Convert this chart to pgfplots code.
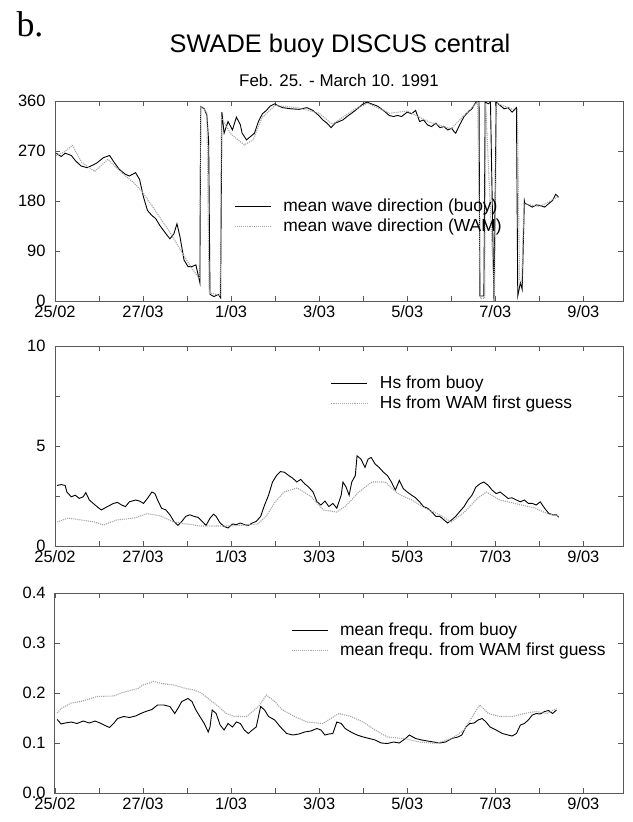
\documentclass[border=0pt]{standalone}
\usepackage{fontspec}
\setmainfont{Liberation Sans}
\newfontfamily\bfont{Liberation Serif}
\usepackage{pgfplots}
\usepackage{pgfplotstable}
\pgfplotsset{compat=1.18}

% mean wave direction, buoy (day since 25/02, degrees)
\pgfplotstableread{
x y
0.03 266
0.14 260
0.23 266
0.37 262
0.46 253
0.59 243
0.73 240
0.87 245
0.96 249
1.10 258
1.24 262
1.33 251
1.46 237
1.60 228
1.69 225
1.83 231
1.92 219
2.01 187
2.10 163
2.20 154
2.29 148
2.38 136
2.52 121
2.61 112
2.70 121
2.77 139
2.84 115
2.93 74
3.02 62
3.11 62
3.20 65
3.29 33
3.31 350
3.39 346
3.45 334
3.49 287
3.52 12
3.61 8
3.71 12
3.76 6
3.79 340
3.84 302
3.93 323
4.03 308
4.12 331
4.21 317
4.25 302
4.35 290
4.44 296
4.53 302
4.62 323
4.71 337
4.80 343
4.89 351
4.99 355
5.08 351
5.17 348
5.35 346
5.54 345
5.72 348
5.86 343
5.99 334
6.08 326
6.18 320
6.27 312
6.36 320
6.45 323
6.54 326
6.63 332
6.72 337
6.82 343
6.91 349
7.00 355
7.09 358
7.18 355
7.32 351
7.46 343
7.59 334
7.69 332
7.78 334
7.87 332
8.00 340
8.10 337
8.19 343
8.28 323
8.37 326
8.46 317
8.55 314
8.65 320
8.74 312
8.83 314
8.92 308
9.01 311
9.06 305
9.10 302
9.19 317
9.29 332
9.38 340
9.47 346
9.56 358
9.63 360
9.65 9
9.74 9
9.77 358
9.84 355
9.89 358
9.97 0
10.02 358
10.11 352
10.20 346
10.29 348
10.38 340
10.48 348
10.51 9
10.57 33
10.61 21
10.66 180
10.67 176
10.75 173
10.84 169
10.93 173
11.02 172
11.12 169
11.21 175
11.30 181
11.37 192
11.44 187
}\dirbuoy

% mean wave direction, WAM
\pgfplotstableread{
x y
0.03 262
0.20 268
0.40 280
0.60 250
0.90 233
1.20 255
1.50 232
1.80 212
2.00 195
2.30 160
2.60 125
2.90 85
3.10 60
3.28 40
3.31 350
3.45 340
3.50 15
3.75 10
3.78 330
4.00 300
4.30 281
4.50 290
4.70 330
5.00 352
5.50 348
6.00 338
6.30 318
6.80 345
7.10 356
7.60 338
8.00 342
8.50 322
9.00 310
9.30 335
9.60 358
9.66 5
9.76 5
9.78 356
9.98 2
10.03 356
10.40 345
10.50 345
10.55 38
10.60 30
10.65 175
11.00 170
11.44 188
}\dirwam

% Hs, buoy (m)
\pgfplotstableread{
x y
0.05 3.03
0.14 3.07
0.23 3.03
0.27 2.70
0.37 2.46
0.46 2.54
0.55 2.38
0.64 2.46
0.70 2.67
0.78 2.30
0.91 2.05
1.05 1.80
1.19 1.97
1.33 2.13
1.42 2.18
1.51 2.05
1.60 1.97
1.69 2.21
1.83 2.30
1.92 2.25
2.01 2.13
2.10 2.38
2.20 2.70
2.27 2.62
2.33 2.30
2.42 1.89
2.52 1.80
2.61 1.56
2.70 1.23
2.79 1.03
2.88 1.23
2.97 1.48
3.06 1.56
3.16 1.48
3.25 1.43
3.34 1.23
3.43 1.03
3.52 1.39
3.60 1.59
3.66 1.48
3.75 1.15
3.84 0.98
3.93 0.90
4.03 1.10
4.12 1.07
4.21 1.15
4.30 1.07
4.39 1.03
4.48 1.15
4.57 1.23
4.67 1.48
4.76 2.05
4.85 2.54
4.94 3.20
5.03 3.52
5.12 3.72
5.21 3.69
5.31 3.52
5.40 3.39
5.49 3.20
5.58 3.33
5.67 3.11
5.76 2.95
5.86 2.70
5.95 2.21
6.04 2.05
6.13 2.25
6.22 1.97
6.31 2.13
6.40 1.89
6.50 2.54
6.54 3.20
6.61 2.95
6.68 2.54
6.74 3.20
6.82 3.52
6.86 4.51
6.95 4.34
7.04 3.93
7.11 4.34
7.18 4.43
7.27 4.10
7.36 3.93
7.46 3.69
7.55 3.52
7.64 3.20
7.73 2.79
7.82 3.28
7.91 2.87
8.00 2.70
8.10 2.54
8.19 2.41
8.28 2.21
8.37 1.97
8.46 1.89
8.55 1.72
8.65 1.48
8.74 1.48
8.83 1.31
8.92 1.15
9.01 1.31
9.10 1.48
9.19 1.72
9.29 1.97
9.38 2.30
9.47 2.54
9.56 2.95
9.65 3.11
9.74 3.20
9.84 3.03
9.93 2.79
10.02 2.62
10.11 2.70
10.20 2.54
10.29 2.38
10.38 2.41
10.48 2.30
10.57 2.21
10.66 2.30
10.75 2.13
10.84 2.13
10.93 2.05
11.02 2.21
11.12 1.89
11.21 1.64
11.30 1.56
11.39 1.56
11.44 1.44
}\hsbuoy

% Hs, WAM first guess
\pgfplotstableread{
x y
0.05 1.20
0.30 1.40
0.60 1.30
0.90 1.20
1.10 1.05
1.40 1.30
1.80 1.40
2.10 1.62
2.40 1.50
2.70 1.20
3.00 1.10
3.30 1.00
3.60 1.00
4.00 1.00
4.30 1.05
4.60 1.10
4.80 1.50
5.00 2.20
5.20 2.70
5.50 2.90
5.80 2.50
6.10 1.80
6.40 1.70
6.60 2.00
6.90 2.70
7.20 3.20
7.50 3.20
7.80 2.60
8.10 2.30
8.40 1.90
8.70 1.60
9.00 1.20
9.30 1.70
9.60 2.40
9.80 2.70
10.10 2.30
10.50 2.10
10.90 1.90
11.20 1.60
11.44 1.50
}\hswam

% mean frequency, buoy (Hz)
\pgfplotstableread{
x y
0.05 0.147
0.14 0.138
0.23 0.140
0.37 0.142
0.50 0.139
0.64 0.144
0.78 0.140
0.91 0.144
1.05 0.139
1.16 0.134
1.24 0.131
1.33 0.139
1.42 0.149
1.56 0.153
1.69 0.151
1.83 0.154
1.92 0.158
2.06 0.163
2.20 0.167
2.33 0.176
2.47 0.176
2.61 0.173
2.72 0.159
2.79 0.169
2.88 0.183
3.02 0.189
3.11 0.183
3.20 0.166
3.29 0.153
3.39 0.139
3.48 0.122
3.52 0.132
3.57 0.166
3.66 0.159
3.75 0.136
3.84 0.126
3.93 0.139
4.03 0.132
4.12 0.142
4.21 0.139
4.30 0.126
4.39 0.119
4.48 0.126
4.57 0.132
4.67 0.173
4.76 0.166
4.85 0.153
4.99 0.146
5.12 0.132
5.26 0.119
5.40 0.116
5.54 0.118
5.67 0.122
5.81 0.124
5.95 0.129
6.04 0.126
6.13 0.116
6.22 0.118
6.31 0.119
6.40 0.142
6.50 0.139
6.59 0.129
6.72 0.122
6.86 0.116
7.00 0.112
7.14 0.109
7.27 0.106
7.41 0.100
7.55 0.099
7.69 0.102
7.82 0.100
7.96 0.109
8.05 0.116
8.19 0.109
8.33 0.106
8.46 0.104
8.60 0.102
8.74 0.100
8.87 0.102
9.01 0.109
9.15 0.112
9.24 0.116
9.33 0.132
9.42 0.139
9.52 0.140
9.61 0.146
9.70 0.149
9.79 0.142
9.88 0.132
10.02 0.126
10.16 0.119
10.29 0.116
10.38 0.114
10.48 0.119
10.57 0.136
10.66 0.139
10.75 0.146
10.84 0.156
10.93 0.159
11.02 0.158
11.12 0.163
11.21 0.165
11.30 0.159
11.39 0.166
}\frbuoy

% mean frequency, WAM first guess
\pgfplotstableread{
x y
0.05 0.160
0.14 0.169
0.37 0.180
0.59 0.183
0.96 0.193
1.33 0.194
1.50 0.200
1.88 0.209
2.00 0.216
2.24 0.223
2.42 0.219
2.70 0.216
2.97 0.209
3.16 0.206
3.34 0.199
3.52 0.186
3.71 0.173
3.89 0.159
4.07 0.153
4.35 0.153
4.62 0.173
4.80 0.196
4.99 0.183
5.17 0.166
5.44 0.153
5.72 0.142
6.08 0.139
6.45 0.159
6.72 0.153
7.00 0.142
7.27 0.126
7.55 0.112
7.91 0.109
8.28 0.102
8.65 0.099
9.01 0.109
9.29 0.126
9.52 0.159
9.65 0.176
9.84 0.159
10.11 0.153
10.38 0.153
10.66 0.159
10.93 0.163
11.16 0.159
11.39 0.169
}\frwam

\pgfplotsset{
  panel/.style={
    width=568bp, height=200bp, scale only axis,
    xmin=0, xmax=12.9,
    xtick={0,...,12},
    xticklabels={25/02,,27/03,,1/03,,3/03,,5/03,,7/03,,9/03},
    tick align=inside, major tick length=5bp,
    axis line style={black!65, line width=1bp},
    tick style={black!65, line width=0.8bp},
    ticklabel style={font=\fontsize{16.5}{18}\selectfont},
    /pgf/number format/assume math mode=true,
    yticklabel style={xshift=-6bp},
    xticklabel style={yshift=-1bp},
    legend style={draw=none, fill=none, anchor=north west,
      font=\fontsize{17.5}{19}\selectfont, row sep=2bp,
      /tikz/every odd column/.append style={column sep=10bp},
      cells={anchor=west}},
    legend image code/.code={\draw[##1] (0bp,0bp) -- (36bp,0bp);},
  },
  buoy/.style={black, line width=0.9bp},
  wam/.style={black!35, line width=1.1bp, densely dotted},
}

\begin{document}
\begin{tikzpicture}
\useasboundingbox (0,0) rectangle (633bp,-822bp);

\node[font=\bfont\fontsize{36}{38}\selectfont] at (30bp,-24bp) {b.};
\node[font=\fontsize{25.5}{28}\selectfont, anchor=base] at (340bp,-52bp) {SWADE buoy DISCUS central};
\node[font=\fontsize{17}{19}\selectfont, anchor=base] at (339bp,-86bp) {Feb. 25. - March 10. 1991};

\begin{axis}[panel, at={(55bp,-101bp)}, anchor=north west,
  ymin=0, ymax=360, ytick={0,90,180,270,360},
  legend style={at={(0.31,0.53)}}]
\addplot[buoy] table[x=x,y=y] {\dirbuoy};
\addlegendentry{mean wave direction (buoy)}
\addplot[wam] table[x=x,y=y] {\dirwam};
\addlegendentry{mean wave direction (WAM)}
\end{axis}

\begin{axis}[panel, at={(55bp,-346bp)}, anchor=north west,
  ymin=0, ymax=10, ytick={0,2.5,5,7.5,10}, yticklabels={0,,5,,10},
  legend style={at={(0.48,0.87)}}]
\addplot[buoy] table[x=x,y=y] {\hsbuoy};
\addlegendentry{Hs from buoy}
\addplot[wam] table[x=x,y=y] {\hswam};
\addlegendentry{Hs from WAM first guess}
\end{axis}

\begin{axis}[panel, at={(55bp,-593bp)}, anchor=north west,
  ymin=0, ymax=0.4, ytick={0,0.1,0.2,0.3,0.4},
  yticklabels={0.0,0.1,0.2,0.3,0.4},
  legend style={at={(0.41,0.87)}}]
\addplot[buoy] table[x=x,y=y] {\frbuoy};
\addlegendentry{mean frequ. from buoy}
\addplot[wam] table[x=x,y=y] {\frwam};
\addlegendentry{mean frequ. from WAM first guess}
\end{axis}
\end{tikzpicture}
\end{document}
